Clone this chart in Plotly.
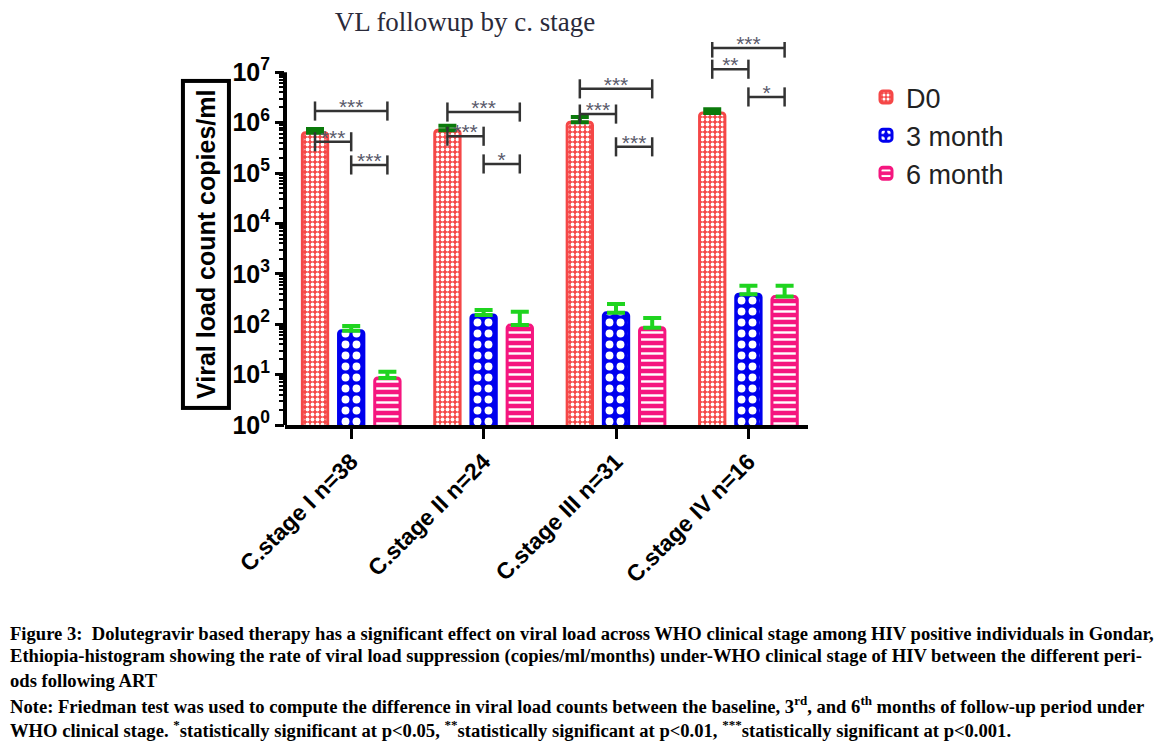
import plotly.graph_objects as go

# ---------------- data ----------------
categories = ["C.stage I n=38", "C.stage II n=24", "C.stage III n=31", "C.stage IV n=16"]
series_names = ["D0", "3 month", "6 month"]

d0_values = [6.3e5, 7.1e5, 1.02e6, 1.55e6]
d0_err = [1.2e5, 1.6e5, 2.7e5, 3.0e5]

m3_values = [74, 152, 168, 393]
m3_err = [18, 39, 84, 186]

m6_values = [8.6, 96, 85, 353]
m6_err = [2.8, 81, 48, 226]

# significance brackets: (group index, from series, to series, log10 level, label)
brackets = [
    (0, 0, 2, 6.23, "***"), (0, 0, 1, 5.62, "***"), (0, 1, 2, 5.16, "***"),
    (1, 0, 2, 6.21, "***"), (1, 0, 1, 5.73, "***"), (1, 1, 2, 5.18, "*"),
    (2, 0, 2, 6.67, "***"), (2, 0, 1, 6.17, "***"), (2, 1, 2, 5.52, "***"),
    (3, 0, 2, 7.48, "***"), (3, 0, 1, 7.06, "**"), (3, 1, 2, 6.51, "*"),
]

ytick_exponents = [0, 1, 2, 3, 4, 5, 6, 7]

caption_lines = [
    "Figure 3:  Dolutegravir based therapy has a significant effect on viral load across WHO clinical stage among HIV positive individuals in Gondar,",
    "Ethiopia-histogram showing the rate of viral load suppression (copies/ml/months) under-WHO clinical stage of HIV between the different peri-",
    "ods following ART",
    "Note: Friedman test was used to compute the difference in viral load counts between the baseline, 3<sup>rd</sup>, and 6<sup>th</sup> months of follow-up period under",
    "WHO clinical stage. <sup>*</sup>statistically significant at p&lt;0.05, <sup>**</sup>statistically significant at p&lt;0.01, <sup>***</sup>statistically significant at p&lt;0.001.",
]

# ---------------- layout geometry ----------------
W, H = 1172, 742
L, B, T = 285, 317, 42
XR = [-0.5, 3.45]
YR = [0, 7.6]
PW = 132.3 * (XR[1] - XR[0])
R = W - L - PW
PH = H - T - B

def px_x(px):
    return (px - L) / PW

def px_y(py):
    return (H - B - py) / PH

RED = "#f54747"
BLUE = "#0000ee"
PINK = "#f5167f"

bargap = 0.18
slot = (1 - bargap) / 3
offsets = [-slot, 0.0, slot]
xs = list(range(len(categories)))

fig = go.Figure()

specs = [
    (d0_values, d0_err, RED, dict(shape=".", size=5, solidity=0.45), "#0b7a0b"),
    (m3_values, m3_err, BLUE, dict(shape=".", size=11, solidity=0.4), "#1fd41f"),
    (m6_values, m6_err, PINK, dict(shape="-", size=7, solidity=0.35), "#1fd41f"),
]
for name, (vals, errs, col, pat, ecol) in zip(series_names, specs):
    fig.add_trace(go.Bar(
        x=xs, y=vals, name=name,
        marker=dict(color=col, line=dict(color=col, width=3), cornerradius=3,
                    pattern=dict(fgcolor="white", bgcolor=col, fillmode="replace", **pat)),
        error_y=dict(type="data", array=errs, arrayminus=[0] * len(errs), symmetric=False,
                     color=ecol, thickness=4, width=9),
        hoverinfo="skip",
    ))

# brackets
cap = 0.19
for g, s1, s2, lev, lab in brackets:
    x1 = g + offsets[s1]
    x2 = g + offsets[s2]
    bx = [x1, x1, None, x1, x2, None, x2, x2]
    by = [10 ** (lev - cap), 10 ** (lev + cap), None, 10 ** lev, 10 ** lev, None,
          10 ** (lev - cap), 10 ** (lev + cap)]
    fig.add_trace(go.Scatter(x=bx, y=by, mode="lines", line=dict(color="#333333", width=2.5),
                             showlegend=False, hoverinfo="skip", connectgaps=False))
    fig.add_trace(go.Scatter(x=[(x1 + x2) / 2], y=[10 ** (lev + 0.04)], mode="text", text=[lab],
                             textposition="middle center",
                             textfont=dict(family="Liberation Sans", size=21, color="#5a5a6a"),
                             showlegend=False, hoverinfo="skip", cliponaxis=False))

minor_vals = [k * 10 ** d for d in range(7) for k in range(2, 10)]

fig.update_layout(
    width=W, height=H,
    margin=dict(l=L, r=R, t=T, b=B, pad=0),
    paper_bgcolor="white", plot_bgcolor="white",
    barmode="group", bargap=bargap, bargroupgap=0.3,
    showlegend=True,
    legend=dict(xref="container", yref="container", x=866 / W, y=1 - 73 / H,
                xanchor="left", yanchor="top",
                font=dict(family="Liberation Sans", size=27, color="#222222"),
                bgcolor="rgba(0,0,0,0)"),
    title=dict(text="VL followup by c. stage", xref="container", yref="container",
               x=465 / W, y=1 - 22 / H, xanchor="center", yanchor="middle",
               font=dict(family="Liberation Serif", size=27, color="#2a2a3a")),
    xaxis=dict(range=XR, tickvals=xs, ticktext=categories, tickangle=-45,
               showline=True, linecolor="black", linewidth=4,
               ticks="outside", ticklen=10, tickwidth=3, tickcolor="black",
               tickfont=dict(family="Liberation Sans", size=23, color="black", weight="bold"),
               showgrid=False, zeroline=False),
    yaxis=dict(type="log", range=YR,
               tickvals=[10 ** e for e in ytick_exponents],
               ticktext=["10<sup>%d</sup>" % e for e in ytick_exponents],
               showline=False, ticks="outside", ticklen=9, tickwidth=3, tickcolor="black",
               tickfont=dict(family="Liberation Sans", size=25, color="black", weight="bold"),
               minor=dict(tickvals=minor_vals, ticks="outside", ticklen=5, tickwidth=2,
                          tickcolor="black", showgrid=False),
               showgrid=False, zeroline=False),
)

# y axis line from 10^0 to 10^7
fig.add_shape(type="line", xref="paper", yref="y", x0=0, x1=0, y0=1, y1=1e7,
              line=dict(color="black", width=4), layer="above")

# y axis title in a box
fig.add_annotation(xref="paper", yref="paper", x=px_x(206), y=px_y(244),
                   text="<b>Viral load count copies/ml</b>", textangle=-90, showarrow=False,
                   font=dict(family="Liberation Sans", size=25, color="black"),
                   bordercolor="black", borderwidth=4, borderpad=7,
                   xanchor="center", yanchor="middle")

# caption
cap_y = [633, 656, 680, 705, 729]
for line, yy in zip(caption_lines, cap_y):
    fig.add_annotation(xref="paper", yref="paper", x=px_x(8), y=px_y(yy), text=line,
                       showarrow=False, xanchor="left", yanchor="middle", align="left",
                       font=dict(family="Liberation Serif", size=18.6, color="black", weight="bold"))

fig.write_html("out.html")
